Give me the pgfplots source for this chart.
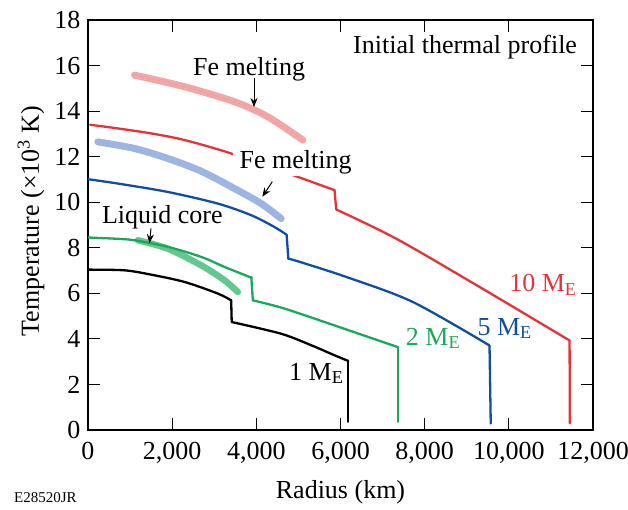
\documentclass[border=0pt]{standalone}
\usepackage{fontspec}
\setmainfont{Liberation Serif}
\usepackage{pgfplots}
\pgfplotsset{compat=1.18}
\usetikzlibrary{arrows.meta}
\definecolor{cred}{RGB}{228,52,58}
\definecolor{cblue}{RGB}{16,78,162}
\definecolor{cgreen}{RGB}{28,168,92}
\definecolor{lred}{RGB}{241,166,168}
\definecolor{lblue}{RGB}{158,180,226}
\definecolor{lgreen}{RGB}{100,200,142}
\newcommand\bigf{\fontsize{26}{31}\selectfont}
\begin{document}
\begin{tikzpicture}
\begin{axis}[
  scale only axis, width=505pt, height=410pt,
  xmin=0, xmax=12000, ymin=0, ymax=18,
  xtick={0,2000,4000,6000,8000,10000,12000}, ytick={0,2,...,18},
  scaled x ticks=false,
  tick align=inside, major tick length=12pt,
  tick style={black, line width=1pt},
  axis line style={line width=1.2pt},
  tick label style={font=\bigf},
  xticklabel style={yshift=-9pt},
  yticklabel style={xshift=-4pt},
  label style={font=\bigf},
  xlabel style={at={(axis description cs:0.5,0)}, anchor=base, yshift=-68pt},
  ylabel style={at={(axis description cs:0,0.5)}, anchor=center, yshift=57pt, xshift=4pt},
  /pgf/number format/assume math mode=true,
  /pgf/number format/1000 sep={,},
  xlabel={Radius (km)},
  ylabel={Temperature (×10\textsuperscript{3} K)},
  every axis plot/.append style={line join=round, line cap=round},
  sm/.style={smooth, tension=0.5},
]
% Fe melting / liquid core curves (light, thick)
\addplot[lred, line width=7pt, sm] coordinates {
 (1105,15.58) (2293,15.07) (3481,14.41) (4273,13.75) (5105,12.73)};
\addplot[cred!50, line width=0.6pt, dashed, sm] coordinates {
 (1105,15.58) (2293,15.07) (3481,14.41) (4273,13.75) (5105,12.73)};
\addplot[lblue, line width=7pt, sm] coordinates {
 (233,12.65) (1105,12.36) (1897,11.92) (2690,11.36) (3481,10.60) (4116,9.94) (4591,9.28)};
\addplot[cblue!40, line width=0.6pt, dashed, sm] coordinates {
 (233,12.65) (1105,12.36) (1897,11.92) (2690,11.36) (3481,10.60) (4116,9.94) (4591,9.28)};
\addplot[lgreen, line width=6.5pt, sm] coordinates {
 (1184,8.33) (1897,7.96) (2690,7.23) (3244,6.57) (3560,6.06)};
% 1 M_E
\addplot[black, line width=2.3pt, sm] coordinates {
 (0,7.04) (867,7.01) (1501,6.82) (2293,6.50) (3085,5.99) (3402,5.69)};
\addplot[black, line width=2.3pt] coordinates {(3402,5.69) (3415,4.74)};
\addplot[black, line width=2.3pt, sm] coordinates {
 (3415,4.74) (4600,4.22) (5331,3.70) (5807,3.32) (6185,3.03)};
\addplot[black, line width=2.3pt] coordinates {(6185,3.03) (6185,0.36)};
% 2 M_E
\addplot[cgreen, line width=2.3pt, sm] coordinates {
 (0,8.45) (630,8.40) (1105,8.33) (1897,8.04) (2690,7.60) (3244,7.16) (3838,6.72) (3880,6.70)};
\addplot[cgreen, line width=2.3pt] coordinates {(3880,6.70) (3917,5.69)};
\addplot[cgreen, line width=2.3pt, sm] coordinates {
 (3917,5.69) (4670,5.33) (6000,4.50) (7362,3.64)};
\addplot[cgreen, line width=2.3pt] coordinates {(7362,3.64) (7362,0.36)};
% 5 M_E
\addplot[cblue, line width=2.3pt, sm] coordinates {
 (0,11.01) (709,10.82) (1897,10.45) (3085,9.94) (3878,9.43) (4432,8.91) (4720,8.57)};
\addplot[cblue, line width=2.3pt] coordinates {(4720,8.57) (4760,7.52)};
\addplot[cblue, line width=2.3pt, sm] coordinates {
 (4760,7.52) (5014,7.39) (6136,6.72) (7719,5.62) (9541,3.71)};
\addplot[cblue, line width=2.3pt] coordinates {(9541,3.71) (9570,0.29)};
% 10 M_E
\addplot[cred, line width=2.3pt, sm] coordinates {
 (50,13.40) (709,13.24) (1501,13.02) (2293,12.73) (3402,12.14) (4868,11.19) (5858,10.53)};
\addplot[cred, line width=2.3pt] coordinates {(5858,10.53) (5898,9.68)};
\addplot[cred, line width=2.3pt, sm] coordinates {
 (5898,9.68) (7324,8.40) (9304,6.28) (11443,3.93)};
\addplot[cred, line width=2.3pt] coordinates {(11443,3.93) (11450,0.29)};

% annotations
\node[font=\bigf, anchor=base] at (axis cs:8960,16.53) {Initial thermal profile};
\node[font=\bigf, anchor=base] at (axis cs:3826,15.58) {Fe melting};
\draw[-{Stealth[length=9pt,width=7pt]}, line width=1pt] (axis cs:3945,15.45) -- (axis cs:3945,14.18);
\node[font=\bigf, anchor=base, fill=white, inner xsep=7pt, inner ysep=2pt] at (axis cs:4935,11.49) {Fe melting};
\draw[-{Stealth[length=9pt,width=7pt]}, line width=1pt] (axis cs:4380,10.90) -- (axis cs:4142,10.24);
\node[font=\bigf, anchor=base] at (axis cs:1766,9.07) {Liquid core};
\draw[-{Stealth[length=9pt,width=7pt]}, line width=1pt] (axis cs:1497,8.85) -- (axis cs:1460,8.20);
\node[font=\bigf, anchor=base west, text=black] at (axis cs:4698,2.19) {1 M\textsubscript{E}};
\node[font=\bigf, anchor=base west, text=cgreen] at (axis cs:7470,3.73) {2 M\textsubscript{E}};
\node[font=\bigf, anchor=base west, text=cblue] at (axis cs:9173,4.17) {5 M\textsubscript{E}};
\node[font=\bigf, anchor=base west, text=cred] at (axis cs:9926,6.07) {10 M\textsubscript{E}};
\end{axis}
\node[font=\fontsize{15}{18}\selectfont, anchor=base west, inner sep=0pt] at (-74pt,-73pt) {E28520JR};
\pgfresetboundingbox
\path (-88pt,-80pt) rectangle (540pt,430pt);
\end{tikzpicture}
\end{document}
